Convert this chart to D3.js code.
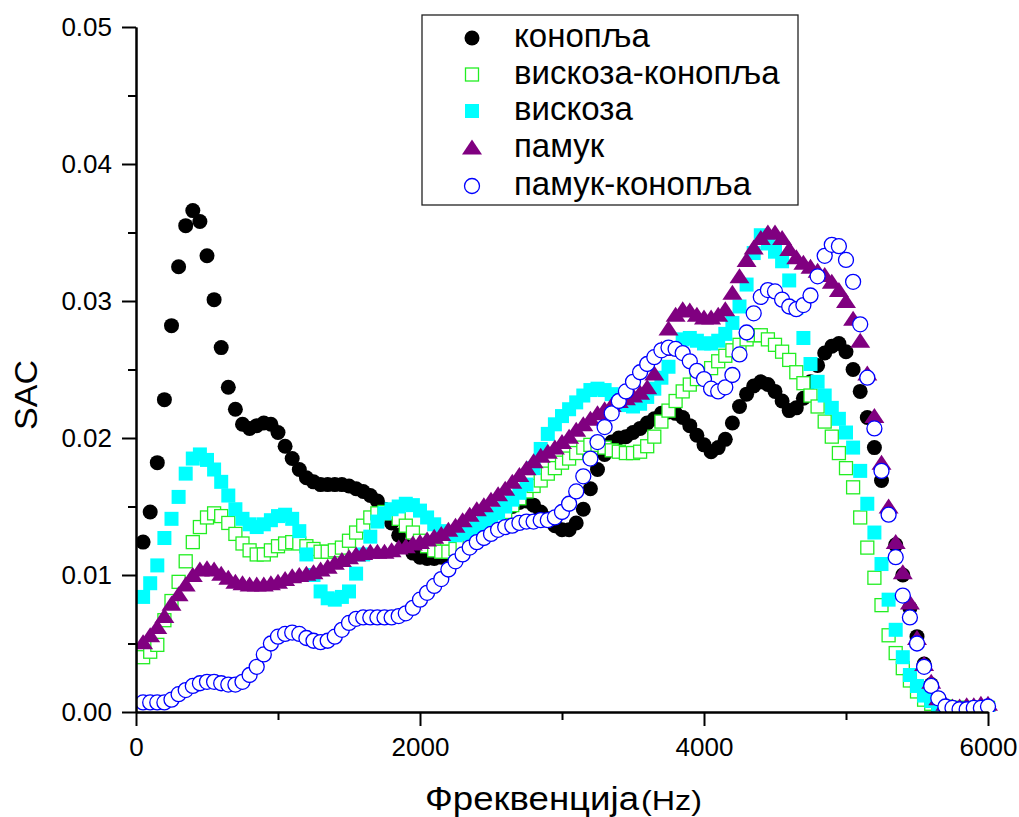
<!DOCTYPE html>
<html>
<head>
<meta charset="utf-8">
<script src="https://cdn.jsdelivr.net/npm/d3@7"></script>
<style>
  body { margin: 0; background: #fff; }
  svg { font-family: "Liberation Sans", Arial, sans-serif; }
  .axis path, .axis line { stroke: #000; stroke-width: 2; }
  .axis text { font-size: 26px; fill: #000; }
</style>
</head>
<body>
<svg id="chart" width="1019" height="817"></svg>
<script>
// frequency grid (Hz), one point every 50 Hz
const freq = d3.range(50, 6001, 50);

const konoplja = [
  0.0124, 0.0146, 0.0182, 0.0228, 0.0282, 0.0325, 0.0355, 0.0366, 0.0358, 0.0333,
  0.0301, 0.0266, 0.0237, 0.0221, 0.0210, 0.0207, 0.0209, 0.0211, 0.0210, 0.0204,
  0.0194, 0.0185, 0.0177, 0.0171, 0.0168, 0.0166, 0.0166, 0.0166, 0.0166, 0.0165,
  0.0163, 0.0161, 0.0158, 0.0154, 0.0148, 0.0138, 0.0129, 0.0121, 0.0116, 0.0113,
  0.0112, 0.0112, 0.0113, 0.0115, 0.0119, 0.0123, 0.0128, 0.0132, 0.0136, 0.0140,
  0.0143, 0.0147, 0.0150, 0.0153, 0.0154, 0.0151, 0.0146, 0.0141, 0.0136, 0.0133,
  0.0133, 0.0138, 0.0148, 0.0163, 0.0177, 0.0188, 0.0197, 0.0200, 0.0201, 0.0204,
  0.0207, 0.0211, 0.0214, 0.0218, 0.0219, 0.0218, 0.0215, 0.0209, 0.0202, 0.0195,
  0.0190, 0.0193, 0.0199, 0.0211, 0.0223, 0.0232, 0.0238, 0.0241, 0.0239, 0.0234,
  0.0227, 0.0220, 0.0222, 0.0229, 0.0241, 0.0253, 0.0262, 0.0267, 0.0269, 0.0263,
  0.0250, 0.0234, 0.0215, 0.0193, 0.0169, 0.0145, 0.0122, 0.0100, 0.0076, 0.0055,
  0.0035, 0.0020, 0.0010, 0.0004, 0.0002, 0.0002, 0.0002, 0.0002, 0.0002, 0.0002
];

const viskozaKonoplja = [
  0.0040, 0.0044, 0.0049, 0.0067, 0.0081, 0.0095, 0.0110, 0.0124, 0.0135, 0.0142,
  0.0145, 0.0143, 0.0138, 0.0130, 0.0123, 0.0118, 0.0115, 0.0115, 0.0118, 0.0121,
  0.0123, 0.0124, 0.0123, 0.0121, 0.0119, 0.0117, 0.0117, 0.0118, 0.0120, 0.0125,
  0.0131, 0.0136, 0.0142, 0.0145, 0.0146, 0.0145, 0.0141, 0.0136, 0.0131, 0.0125,
  0.0121, 0.0118, 0.0117, 0.0117, 0.0119, 0.0122, 0.0126, 0.0130, 0.0134, 0.0138,
  0.0142, 0.0146, 0.0151, 0.0156, 0.0161, 0.0165, 0.0169, 0.0174, 0.0178, 0.0182,
  0.0185, 0.0189, 0.0193, 0.0195, 0.0195, 0.0193, 0.0191, 0.0190, 0.0189, 0.0189,
  0.0190, 0.0194, 0.0201, 0.0212, 0.0220, 0.0227, 0.0234, 0.0239, 0.0243, 0.0247,
  0.0251, 0.0256, 0.0260, 0.0264, 0.0268, 0.0272, 0.0275, 0.0275, 0.0272, 0.0268,
  0.0263, 0.0257, 0.0248, 0.0240, 0.0231, 0.0223, 0.0212, 0.0201, 0.0189, 0.0178,
  0.0164, 0.0142, 0.0120, 0.0098, 0.0078, 0.0056, 0.0043, 0.0032, 0.0023, 0.0015,
  0.0009, 0.0006, 0.0005, 0.0004, 0.0003, 0.0003, 0.0003, 0.0003, 0.0003, 0.0003
];

const viskoza = [
  0.0084, 0.0094, 0.0107, 0.0127, 0.0141, 0.0157, 0.0174, 0.0185, 0.0188, 0.0184,
  0.0177, 0.0168, 0.0158, 0.0148, 0.0141, 0.0137, 0.0135, 0.0137, 0.0140, 0.0143,
  0.0144, 0.0141, 0.0132, 0.0115, 0.0100, 0.0088, 0.0083, 0.0082, 0.0084, 0.0088,
  0.0101, 0.0115, 0.0128, 0.0139, 0.0145, 0.0148, 0.0150, 0.0152, 0.0151, 0.0147,
  0.0142, 0.0137, 0.0132, 0.0130, 0.0129, 0.0130, 0.0132, 0.0135, 0.0138, 0.0142,
  0.0145, 0.0150, 0.0155, 0.0160, 0.0166, 0.0178, 0.0192, 0.0203, 0.0210, 0.0216,
  0.0221, 0.0226, 0.0231, 0.0235, 0.0236, 0.0235, 0.0232, 0.0228, 0.0224, 0.0223,
  0.0225, 0.0230, 0.0236, 0.0244, 0.0252, 0.0265, 0.0272, 0.0273, 0.0271, 0.0269,
  0.0269, 0.0271, 0.0276, 0.0284, 0.0296, 0.0312, 0.0335, 0.0348, 0.0342, 0.0336,
  0.0329, 0.0315, 0.0295, 0.0273, 0.0254, 0.0241, 0.0231, 0.0222, 0.0214, 0.0204,
  0.0193, 0.0176, 0.0152, 0.0131, 0.0108, 0.0082, 0.0060, 0.0040, 0.0027, 0.0019,
  0.0012, 0.0008, 0.0005, 0.0003, 0.0002, 0.0002, 0.0002, 0.0002, 0.0002, 0.0002
];

const pamuk = [
  0.0051, 0.0056, 0.0062, 0.0070, 0.0079, 0.0086, 0.0093, 0.0100, 0.0104, 0.0105,
  0.0104, 0.0101, 0.0098, 0.0095, 0.0094, 0.0093, 0.0093, 0.0093, 0.0094, 0.0095,
  0.0097, 0.0099, 0.0100, 0.0101, 0.0102, 0.0104, 0.0106, 0.0109, 0.0111, 0.0113,
  0.0115, 0.0116, 0.0117, 0.0117, 0.0117, 0.0118, 0.0120, 0.0121, 0.0123, 0.0124,
  0.0126, 0.0128, 0.0130, 0.0133, 0.0136, 0.0140, 0.0144, 0.0148, 0.0151, 0.0155,
  0.0159, 0.0163, 0.0168, 0.0173, 0.0178, 0.0183, 0.0187, 0.0190, 0.0193, 0.0197,
  0.0201, 0.0206, 0.0210, 0.0214, 0.0218, 0.0221, 0.0224, 0.0227, 0.0229, 0.0231,
  0.0233, 0.0237, 0.0247, 0.0265, 0.0280, 0.0290, 0.0294, 0.0293, 0.0290, 0.0288,
  0.0288, 0.0290, 0.0294, 0.0306, 0.0318, 0.0330, 0.0339, 0.0346, 0.0350, 0.0350,
  0.0346, 0.0338, 0.0332, 0.0328, 0.0325, 0.0322, 0.0319, 0.0314, 0.0308, 0.0300,
  0.0287, 0.0271, 0.0247, 0.0216, 0.0182, 0.0150, 0.0124, 0.0102, 0.0080, 0.0054,
  0.0035, 0.0022, 0.0010, 0.0006, 0.0004, 0.0004, 0.0005, 0.0005, 0.0006, 0.0006
];

const pamukKonoplja = [
  0.0007, 0.0007, 0.0007, 0.0007, 0.0009, 0.0013, 0.0016, 0.0019, 0.0021, 0.0022,
  0.0022, 0.0021, 0.0020, 0.0020, 0.0022, 0.0027, 0.0033, 0.0042, 0.0050, 0.0055,
  0.0057, 0.0058, 0.0057, 0.0054, 0.0052, 0.0051, 0.0052, 0.0055, 0.0060, 0.0065,
  0.0068, 0.0069, 0.0069, 0.0069, 0.0069, 0.0069, 0.0070, 0.0072, 0.0076, 0.0082,
  0.0087, 0.0092, 0.0097, 0.0104, 0.0110, 0.0115, 0.0120, 0.0124, 0.0127, 0.0130,
  0.0133, 0.0135, 0.0136, 0.0138, 0.0139, 0.0139, 0.0140, 0.0140, 0.0142, 0.0146,
  0.0152, 0.0161, 0.0172, 0.0185, 0.0197, 0.0208, 0.0218, 0.0227, 0.0234, 0.0241,
  0.0248, 0.0254, 0.0259, 0.0264, 0.0266, 0.0265, 0.0262, 0.0256, 0.0249, 0.0243,
  0.0236, 0.0234, 0.0237, 0.0246, 0.0261, 0.0277, 0.0291, 0.0303, 0.0308, 0.0307,
  0.0301, 0.0296, 0.0294, 0.0297, 0.0304, 0.0318, 0.0333, 0.0341, 0.0340, 0.0330,
  0.0314, 0.0283, 0.0244, 0.0207, 0.0176, 0.0144, 0.0113, 0.0085, 0.0069, 0.0050,
  0.0033, 0.0019, 0.0010, 0.0004, 0.0003, 0.0002, 0.0002, 0.0003, 0.0003, 0.0004
];

const seriesNames = ["конопља", "вискоза-конопља", "вискоза", "памук", "памук-конопља"];
const seriesValues = [konoplja, viskozaKonoplja, viskoza, pamuk, pamukKonoplja];

const yTicks = [0, 0.01, 0.02, 0.03, 0.04, 0.05];
const yMinorTicks = [0.005, 0.015, 0.025, 0.035, 0.045];
const xTicks = [0, 2000, 4000, 6000];
const xMinorTicks = [1000, 3000, 5000];

// marker styles, same order as the series
const markers = [
  { shape: "circle", fill: "#000", stroke: "none" },
  { shape: "square", fill: "#fff", stroke: "#22ee22", size: 13 },
  { shape: "square", fill: "#00ffff", stroke: "none", size: 14 },
  { shape: "triangle", fill: "#800080", stroke: "none" },
  { shape: "circle", fill: "#fff", stroke: "#0000ff" }
];

const svg = d3.select("#chart");
const plotLeft = 136, plotRight = 988, plotTop = 27, plotBottom = 712;

const x = d3.scaleLinear().domain([0, 6000]).range([plotLeft, plotRight]);
const y = d3.scaleLinear().domain([0, 0.05]).range([plotBottom, plotTop]);

function drawMarker(g, m) {
  if (m.shape === "circle") {
    g.append("circle").attr("r", 7.5)
      .attr("fill", m.fill).attr("stroke", m.stroke).attr("stroke-width", 1.3);
  } else if (m.shape === "square") {
    g.append("rect").attr("x", -m.size / 2).attr("y", -m.size / 2)
      .attr("width", m.size).attr("height", m.size)
      .attr("fill", m.fill).attr("stroke", m.stroke).attr("stroke-width", 1.3);
  } else {
    g.append("path").attr("d", "M0,-8L10,7L-10,7Z").attr("fill", m.fill);
  }
}

// clip region so markers stop at the bottom axis
svg.append("defs").append("clipPath").attr("id", "plotclip")
  .append("rect").attr("x", plotLeft).attr("y", 0)
  .attr("width", 1019 - plotLeft).attr("height", plotBottom);

const plot = svg.append("g").attr("clip-path", "url(#plotclip)");

seriesValues.forEach(function (vals, si) {
  const m = markers[si];
  plot.append("g")
    .selectAll("g")
    .data(vals)
    .enter().append("g")
    .attr("transform", function (d, i) {
      return `translate(${x(freq[i])},${y(d)})`;
    })
    .each(function () { drawMarker(d3.select(this), m); });
});

// Y axis
svg.append("g").attr("class", "axis")
  .attr("transform", `translate(${plotLeft},0)`)
  .call(d3.axisLeft(y).tickValues(yMinorTicks).tickSize(8).tickSizeOuter(0).tickFormat(""));
svg.append("g").attr("class", "axis")
  .attr("transform", `translate(${plotLeft},0)`)
  .call(d3.axisLeft(y).tickValues(yTicks).tickSize(14).tickSizeOuter(0)
    .tickPadding(10).tickFormat(d3.format(".2f")));

// X axis
svg.append("g").attr("class", "axis")
  .attr("transform", `translate(0,${plotBottom})`)
  .call(d3.axisBottom(x).tickValues(xMinorTicks).tickSize(8).tickSizeOuter(0).tickFormat(""));
svg.append("g").attr("class", "axis")
  .attr("transform", `translate(0,${plotBottom})`)
  .call(d3.axisBottom(x).tickValues(xTicks).tickSize(14).tickSizeOuter(0)
    .tickPadding(12).tickFormat(d3.format("d")));

svg.selectAll(".axis .domain").attr("stroke-width", 2.5);

// axis titles (the original export stretches its text a little sideways)
svg.append("text").attr("x", 425).attr("y", 810)
  .attr("font-size", 34)
  .attr("textLength", 214).attr("lengthAdjust", "spacingAndGlyphs")
  .text("Фреквенција");
svg.append("text").attr("x", 641).attr("y", 810)
  .attr("font-size", 27)
  .attr("textLength", 61).attr("lengthAdjust", "spacingAndGlyphs")
  .text("(Hz)");

svg.append("text")
  .attr("transform", "translate(37,395) rotate(-90)")
  .attr("text-anchor", "middle")
  .attr("font-size", 31)
  .attr("textLength", 70).attr("lengthAdjust", "spacingAndGlyphs")
  .text("SAC");

// legend
const legend = svg.append("g");
legend.append("rect").attr("x", 422).attr("y", 15)
  .attr("width", 376).attr("height", 190)
  .attr("fill", "#fff").attr("stroke", "#222").attr("stroke-width", 1.3);

const legendRows = [38, 74.5, 111, 147.5, 186];
seriesNames.forEach(function (name, i) {
  const g = legend.append("g").attr("transform", `translate(472,${legendRows[i]})`);
  drawMarker(g, markers[i]);
  legend.append("text")
    .attr("x", 514).attr("y", legendRows[i] + 9)
    .attr("font-size", 33)
    .text(name);
});
</script>
</body>
</html>
